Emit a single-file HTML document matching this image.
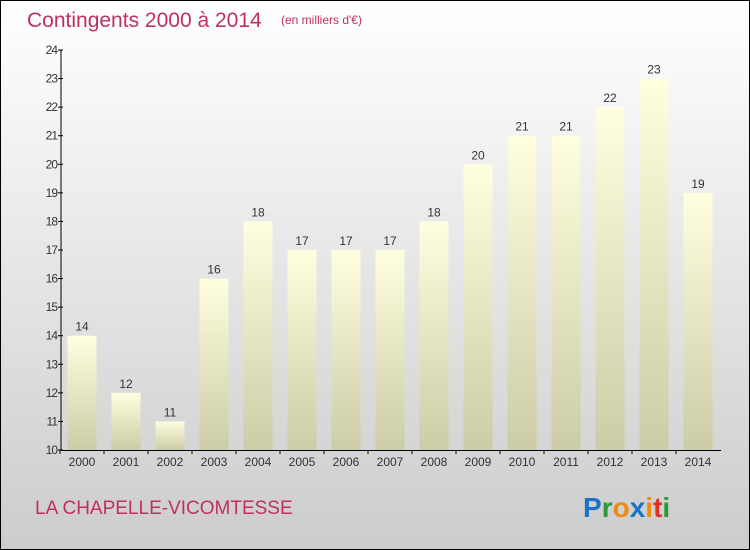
<!DOCTYPE html>
<html><head><meta charset="utf-8"><style>
html,body{margin:0;padding:0}
body{width:750px;height:550px;overflow:hidden;font-family:"Liberation Sans",sans-serif}
#wrap{position:absolute;left:0;top:0;width:748px;height:548px;border:1px solid #000;background:linear-gradient(#ffffff,#cccccc)}
</style></head><body>
<div id="wrap"></div>
<svg id="chart" width="750" height="550" style="position:absolute;left:0;top:0">
<defs><linearGradient id="bg" x1="0" y1="0" x2="0" y2="1"><stop offset="0" stop-color="#ffffe0"/><stop offset="1" stop-color="#cccca6"/></linearGradient></defs>
<text x="27" y="27" font-size="21" fill="#c0305e">Contingents 2000 à 2014</text>
<text x="281" y="24" font-size="12" fill="#c0305e">(en milliers d'€)</text>
<text x="35" y="514" font-size="19" fill="#c0305e">LA CHAPELLE-VICOMTESSE</text>
<g font-size="28" font-weight="bold" font-family="Liberation Sans,sans-serif">
<text x="583" y="517"><tspan fill="#1a73c8">P</tspan><tspan fill="#2a9a3a">r</tspan><tspan fill="#f08a10">o</tspan><tspan fill="#1a73c8">x</tspan><tspan fill="#f08a10">i</tspan><tspan fill="#e03020">t</tspan><tspan fill="#2a9a3a">i</tspan></text>
</g>
<g id="plot"></g>
</svg>
<script>
const years=["2000","2001","2002","2003","2004","2005","2006","2007","2008","2009","2010","2011","2012","2013","2014"];
const values=[14,12,11,16,18,17,17,17,18,20,21,21,22,23,19];
const yTicks=[10,11,12,13,14,15,16,17,18,19,20,21,22,23,24];
const NS="http://www.w3.org/2000/svg";
const g=document.getElementById('plot');
const y0=450,y1=50,vmin=10,vmax=24,x0=61,x1=721;
const ys=v=>y0-(v-vmin)/(vmax-vmin)*(y0-y1);
const step=44,first=82;
const xs=i=>first+i*step;
function mk(t,a){const e=document.createElementNS(NS,t);for(const k in a)e.setAttribute(k,a[k]);g.appendChild(e);return e;}
years.forEach((yr,i)=>{
 const v=values[i];
 const r=mk('rect',{x:xs(i)-14.5,y:ys(v),width:29,height:y0-ys(v),fill:'url(#bg)'});
 
 
 const t=mk('text',{x:xs(i),y:ys(v)-5,'font-size':12,fill:'#333','text-anchor':'middle'});t.textContent=v;
 
 
 const l=mk('text',{x:xs(i),y:y0+16,'font-size':12,fill:'#333','text-anchor':'middle'});l.textContent=yr;
 
 
 mk('line',{x1:xs(i)-22,x2:xs(i)-22,y1:y0,y2:y0+4,stroke:'#000'});
});
yTicks.forEach(v=>{
 mk('line',{x1:x0-3,x2:x0+2,y1:ys(v),y2:ys(v),stroke:'#000'});
 const t=mk('text',{x:x0-4,y:ys(v)+4,'font-size':12,fill:'#333','text-anchor':'end','letter-spacing':'-1'});t.textContent=v;
 
 
});
const ya=mk('line',{x1:x0,x2:x0,y1:y1,y2:y0,stroke:'#000'});


const xa=mk('line',{x1:x0,x2:x1,y1:y0+0.5,y2:y0+0.5,stroke:'#000'});


</script>
</body></html>
